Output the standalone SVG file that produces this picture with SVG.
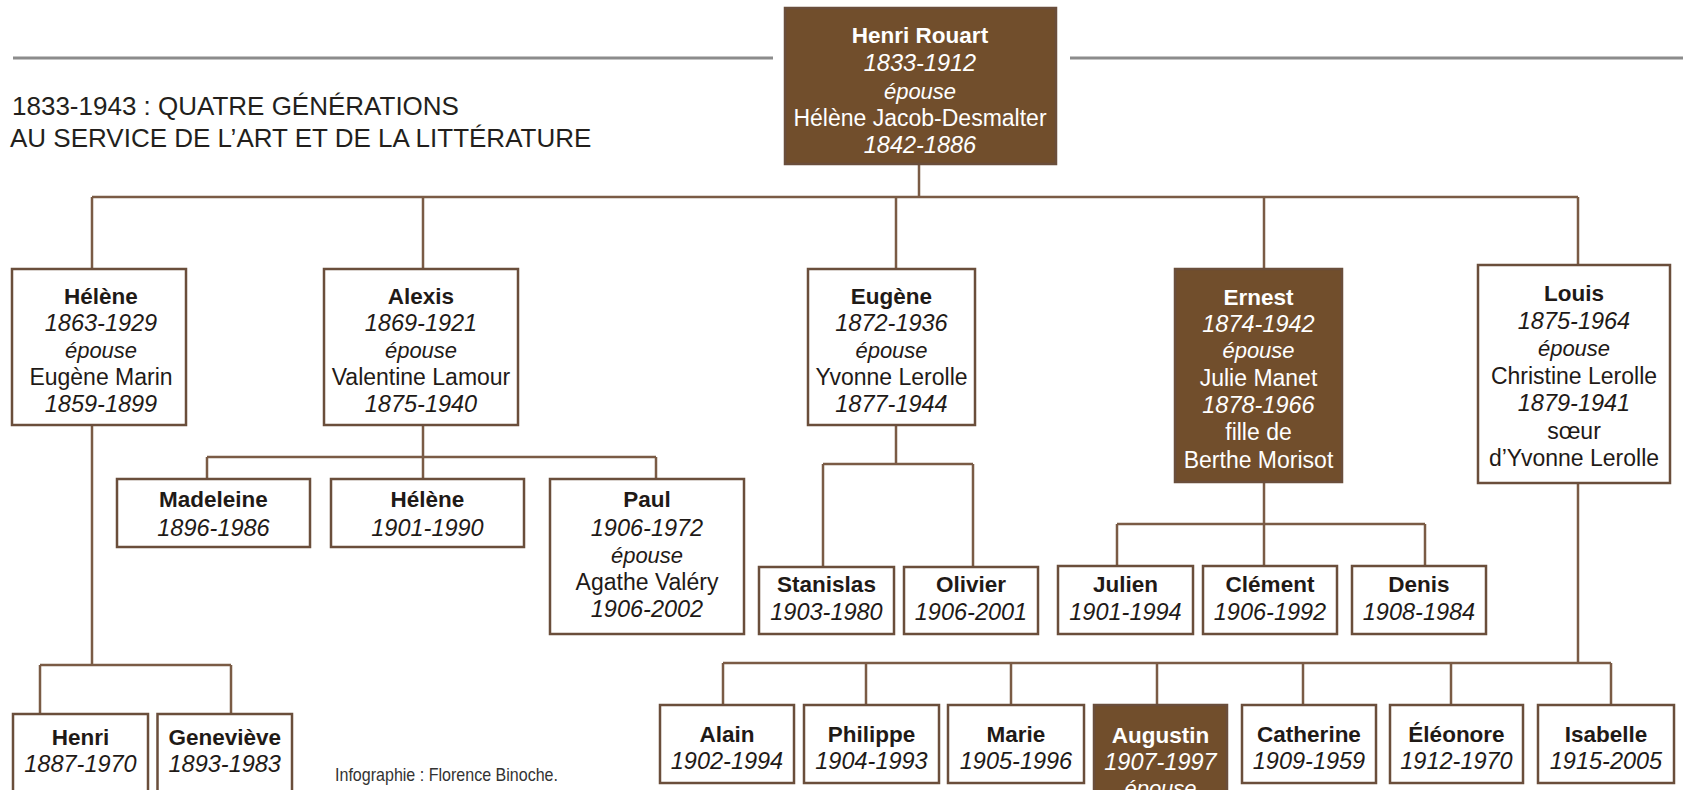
<svg xmlns="http://www.w3.org/2000/svg" width="1683" height="790" viewBox="0 0 1683 790">
<style>
  .bx{fill:#ffffff;stroke:#6a4e3b;stroke-width:2.5}
  .dk{fill:#714e2c;stroke:#6a4e3b;stroke-width:2.5}
  text{font-family:"Liberation Sans",Arial,sans-serif;text-anchor:middle;fill:#1f1a17}
  .w text{fill:#ffffff}
  .n{font-weight:bold;font-size:22.5px}
  .d{font-style:italic;font-size:23.5px}
  .e{font-style:italic;font-size:22px}
  .r{font-size:23px}
  .title{text-anchor:start;font-size:26px;fill:#231f1c}
  .credit{text-anchor:start;font-size:19px;fill:#333333}
  .conn{fill:none;stroke:#7a5b45;stroke-width:2.5}
  .rule{fill:none;stroke:#8c8c8c;stroke-width:3}
</style>

<g id="header">
  <path class="rule" d="M13 58 H773 M1070 58 H1683"/>
  <text class="title" x="12" y="115">1833-1943 : QUATRE GÉNÉRATIONS</text>
  <text class="title" x="10" y="147">AU SERVICE DE L’ART ET DE LA LITTÉRATURE</text>
  <text class="credit" x="335" y="781" textLength="223" lengthAdjust="spacingAndGlyphs">Infographie : Florence Binoche.</text>
</g>

<g id="connectors">
  <path class="conn" d="M919 164 V197 M92 197 H1578 M92 197 V269 M423 197 V269 M896 197 V269 M1264 197 V269 M1578 197 V265"/>
  <path class="conn" d="M92 425 V665 M40 665 H231 M40 665 V714 M231 665 V714"/>
  <path class="conn" d="M423 425 V479 M207 457 H656 M207 457 V479 M656 457 V479"/>
  <path class="conn" d="M896 425 V464 M823 464 H973 M823 464 V567 M973 464 V567"/>
  <path class="conn" d="M1264 482 V566 M1117 524 H1425 M1117 524 V566 M1425 524 V566"/>
  <path class="conn" d="M1578 483 V663 M723 663 H1611 M723 663 V705 M866 663 V705 M1011 663 V705 M1157 663 V705 M1303 663 V705 M1451 663 V705 M1611 663 V705"/>
</g>

<g id="henri-rouart" class="w">
  <rect class="dk" x="785" y="8" width="271" height="156"/>
  <text class="n" x="920" y="43">Henri Rouart</text>
  <text class="d" x="920" y="71">1833-1912</text>
  <text class="e" x="920" y="98.5">épouse</text>
  <text class="r" x="920" y="126">Hélène Jacob-Desmalter</text>
  <text class="d" x="920" y="153">1842-1886</text>
</g>

<g id="helene">
  <rect class="bx" x="12" y="269" width="174" height="156"/>
  <text class="n" x="101" y="303.5">Hélène</text>
  <text class="d" x="101" y="331">1863-1929</text>
  <text class="e" x="101" y="357.5">épouse</text>
  <text class="r" x="101" y="384.5">Eugène Marin</text>
  <text class="d" x="101" y="412">1859-1899</text>
</g>

<g id="alexis">
  <rect class="bx" x="324" y="269" width="194" height="156"/>
  <text class="n" x="421" y="303.5">Alexis</text>
  <text class="d" x="421" y="331">1869-1921</text>
  <text class="e" x="421" y="357.5">épouse</text>
  <text class="r" x="421" y="384.5">Valentine Lamour</text>
  <text class="d" x="421" y="412">1875-1940</text>
</g>

<g id="eugene">
  <rect class="bx" x="808" y="269" width="167" height="156"/>
  <text class="n" x="891.5" y="303.5">Eugène</text>
  <text class="d" x="891.5" y="331">1872-1936</text>
  <text class="e" x="891.5" y="357.5">épouse</text>
  <text class="r" x="891.5" y="384.5">Yvonne Lerolle</text>
  <text class="d" x="891.5" y="412">1877-1944</text>
</g>

<g id="ernest" class="w">
  <rect class="dk" x="1175" y="269" width="167" height="213"/>
  <text class="n" x="1258.5" y="305">Ernest</text>
  <text class="d" x="1258.5" y="331.5">1874-1942</text>
  <text class="e" x="1258.5" y="358">épouse</text>
  <text class="r" x="1258.5" y="385.5">Julie Manet</text>
  <text class="d" x="1258.5" y="412.5">1878-1966</text>
  <text class="r" x="1258.5" y="440">fille de</text>
  <text class="r" x="1258.5" y="467.5">Berthe Morisot</text>
</g>

<g id="louis">
  <rect class="bx" x="1478" y="265" width="192" height="218"/>
  <text class="n" x="1574" y="301">Louis</text>
  <text class="d" x="1574" y="328.5">1875-1964</text>
  <text class="e" x="1574" y="355.5">épouse</text>
  <text class="r" x="1574" y="383.5">Christine Lerolle</text>
  <text class="d" x="1574" y="410.5">1879-1941</text>
  <text class="r" x="1574" y="438.5">sœur</text>
  <text class="r" x="1574" y="466">d’Yvonne Lerolle</text>
</g>

<g id="madeleine">
  <rect class="bx" x="117" y="479" width="193" height="68"/>
  <text class="n" x="213.5" y="507">Madeleine</text>
  <text class="d" x="213.5" y="535.5">1896-1986</text>
</g>

<g id="helene-2">
  <rect class="bx" x="331" y="479" width="193" height="68"/>
  <text class="n" x="427.5" y="507">Hélène</text>
  <text class="d" x="427.5" y="535.5">1901-1990</text>
</g>

<g id="paul">
  <rect class="bx" x="550" y="479" width="194" height="155"/>
  <text class="n" x="647" y="507">Paul</text>
  <text class="d" x="647" y="535.5">1906-1972</text>
  <text class="e" x="647" y="562.5">épouse</text>
  <text class="r" x="647" y="590">Agathe Valéry</text>
  <text class="d" x="647" y="617">1906-2002</text>
</g>

<g id="stanislas">
  <rect class="bx" x="759" y="567" width="135" height="67"/>
  <text class="n" x="826.5" y="592">Stanislas</text>
  <text class="d" x="826.5" y="620">1903-1980</text>
</g>

<g id="olivier">
  <rect class="bx" x="904" y="567" width="134" height="67"/>
  <text class="n" x="971" y="592">Olivier</text>
  <text class="d" x="971" y="620">1906-2001</text>
</g>

<g id="julien">
  <rect class="bx" x="1058" y="566" width="135" height="68"/>
  <text class="n" x="1125.5" y="592">Julien</text>
  <text class="d" x="1125.5" y="620">1901-1994</text>
</g>

<g id="clement">
  <rect class="bx" x="1203" y="566" width="134" height="68"/>
  <text class="n" x="1270" y="592">Clément</text>
  <text class="d" x="1270" y="620">1906-1992</text>
</g>

<g id="denis">
  <rect class="bx" x="1352" y="566" width="134" height="68"/>
  <text class="n" x="1419" y="592">Denis</text>
  <text class="d" x="1419" y="620">1908-1984</text>
</g>

<g id="henri">
  <rect class="bx" x="13" y="714" width="135" height="90"/>
  <text class="n" x="80.5" y="745">Henri</text>
  <text class="d" x="80.5" y="772">1887-1970</text>
</g>

<g id="genevieve">
  <rect class="bx" x="157.5" y="714" width="134.5" height="90"/>
  <text class="n" x="224.75" y="745">Geneviève</text>
  <text class="d" x="224.75" y="772">1893-1983</text>
</g>

<g id="alain">
  <rect class="bx" x="660" y="705" width="134" height="78"/>
  <text class="n" x="727" y="742">Alain</text>
  <text class="d" x="727" y="769">1902-1994</text>
</g>

<g id="philippe">
  <rect class="bx" x="804" y="705" width="135" height="78"/>
  <text class="n" x="871.5" y="742">Philippe</text>
  <text class="d" x="871.5" y="769">1904-1993</text>
</g>

<g id="marie">
  <rect class="bx" x="948" y="705" width="136" height="78"/>
  <text class="n" x="1016" y="742">Marie</text>
  <text class="d" x="1016" y="769">1905-1996</text>
</g>

<g id="augustin" class="w">
  <rect class="dk" x="1094" y="705" width="133" height="100"/>
  <text class="n" x="1160.5" y="742.5">Augustin</text>
  <text class="d" x="1160.5" y="769.5">1907-1997</text>
  <text class="e" x="1160.5" y="796">épouse</text>
</g>

<g id="catherine">
  <rect class="bx" x="1242" y="705" width="134" height="78"/>
  <text class="n" x="1309" y="742">Catherine</text>
  <text class="d" x="1309" y="769">1909-1959</text>
</g>

<g id="eleonore">
  <rect class="bx" x="1390" y="705" width="133" height="78"/>
  <text class="n" x="1456.5" y="742">Éléonore</text>
  <text class="d" x="1456.5" y="769">1912-1970</text>
</g>

<g id="isabelle">
  <rect class="bx" x="1538" y="705" width="136" height="78"/>
  <text class="n" x="1606" y="742">Isabelle</text>
  <text class="d" x="1606" y="769">1915-2005</text>
</g>
</svg>
